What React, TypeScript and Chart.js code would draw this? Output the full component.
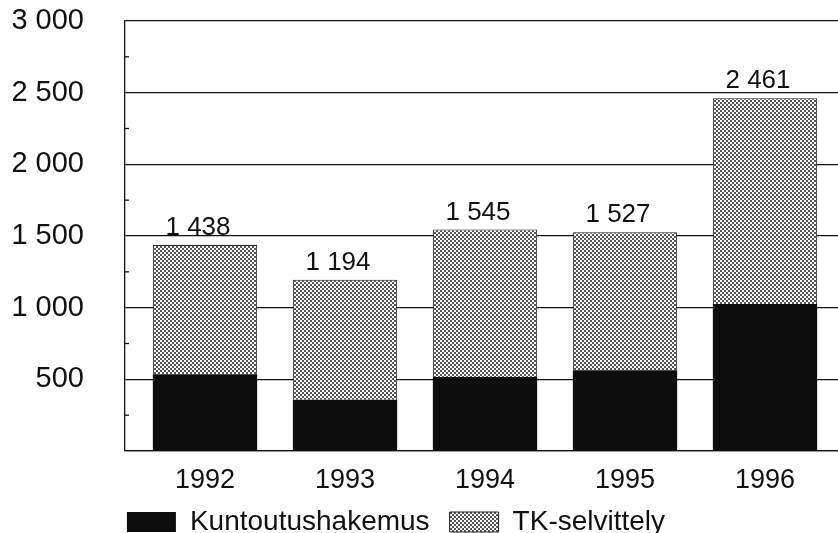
import React, { useEffect, useRef } from 'react';
import { Chart, registerables } from 'chart.js';

Chart.register(...registerables);

const FONT = "'Liberation Sans', Arial, sans-serif";

const YEARS = [1992, 1993, 1994, 1995, 1996];
const KUNTOUTUS = [535, 357, 516, 563, 1026];
const TK_SELVITTELY = [903, 837, 1029, 964, 1435];
const TOTAL_LABELS = ['1 438', '1 194', '1 545', '1 527', '2 461'];
const SERIES_NAMES = ['Kuntoutushakemus', 'TK-selvittely'];

const fmtThousands = (v: number) => {
  if (v >= 1000) {
    return `${Math.floor(v / 1000)} ${String(v % 1000).padStart(3, '0')}`;
  }
  return String(v);
};

const totalLabelsPlugin = {
  id: 'totalLabels',
  afterDatasetsDraw(chart: any) {
    const meta = chart.getDatasetMeta(1);
    const ctx = chart.ctx;
    ctx.save();
    ctx.font = `26px ${FONT}`;
    ctx.fillStyle = '#111';
    ctx.textAlign = 'center';
    ctx.textBaseline = 'alphabetic';
    meta.data.forEach((bar: any, i: number) => {
      ctx.fillText(TOTAL_LABELS[i], bar.x - 7, bar.y - 10);
    });
    ctx.restore();
  },
};

// small inward tick marks on the y axis for the minor (non-labelled) ticks
const minorTicksPlugin = {
  id: 'minorTicks',
  afterDraw(chart: any) {
    const y = chart.scales.y;
    const left = chart.chartArea.left;
    const ctx = chart.ctx;
    ctx.save();
    ctx.strokeStyle = '#111';
    ctx.lineWidth = 1.3;
    y.ticks.forEach((t: any, i: number) => {
      if (t.value % 500 !== 0) {
        const py = y.getPixelForTick(i);
        ctx.beginPath();
        ctx.moveTo(left, py);
        ctx.lineTo(left + 4, py);
        ctx.stroke();
      }
    });
    ctx.restore();
  },
};

export default function App() {
  const ref = useRef<HTMLCanvasElement | null>(null);

  useEffect(() => {
    const canvas = ref.current;
    if (!canvas) return;
    const ctx = canvas.getContext('2d');
    if (!ctx) return;

    const pc = document.createElement('canvas');
    pc.width = 4;
    pc.height = 4;
    const pctx = pc.getContext('2d')!;
    pctx.fillStyle = '#ffffff';
    pctx.fillRect(0, 0, 4, 4);
    pctx.fillStyle = '#555555';
    pctx.fillRect(0, 0, 2, 2);
    pctx.fillRect(2, 2, 2, 2);
    const pattern = ctx.createPattern(pc, 'repeat');

    Chart.defaults.color = '#111';

    const chart = new Chart(ctx, {
      type: 'bar',
      data: {
        labels: YEARS,
        datasets: [
          {
            label: SERIES_NAMES[0],
            data: KUNTOUTUS,
            backgroundColor: '#0d0d0d',
            borderWidth: 0,
            barPercentage: 0.745,
            categoryPercentage: 1,
          },
          {
            label: SERIES_NAMES[1],
            data: TK_SELVITTELY,
            backgroundColor: pattern as any,
            borderColor: '#222',
            borderWidth: 1,
            barPercentage: 0.745,
            categoryPercentage: 1,
          },
        ],
      },
      options: {
        animation: false,
        responsive: false,
        devicePixelRatio: 1,
        layout: { padding: { top: 21, left: 0, right: 0, bottom: 0 } },
        plugins: {
          legend: {
            position: 'bottom',
            labels: {
              boxWidth: 49,
              boxHeight: 20,
              padding: 20,
              color: '#111',
              font: { size: 28, family: FONT },
            },
          },
          tooltip: { enabled: false },
        },
        scales: {
          x: {
            type: 'linear',
            offset: false,
            min: 1991.4286,
            max: 1996.5214,
            stacked: true,
            afterBuildTicks: (scale: any) => {
              scale.ticks = YEARS.map((v) => ({ value: v }));
            },
            afterFit: (scale: any) => {
              scale.height = 37;
            },
            ticks: {
              autoSkip: false,
              maxRotation: 0,
              padding: 21,
              color: '#111',
              font: { size: 27, family: FONT, lineHeight: 0.667 },
              callback: (v: any) => String(v),
            },
            grid: { display: false, drawTicks: false, offset: false },
            border: { display: true, color: '#111', width: 1.3 },
          },
          y: {
            min: 0,
            max: 3000,
            stacked: true,
            afterFit: (scale: any) => {
              scale.width = 171;
            },
            ticks: {
              stepSize: 250,
              autoSkip: false,
              padding: 0,
              color: '#111',
              font: { size: 29, family: FONT },
              callback: (v: any) => (v % 500 === 0 && v !== 0 ? fmtThousands(v) : ''),
            },
            grid: {
              color: (c: any) => (c.tick && c.tick.value % 500 === 0 ? '#111' : 'rgba(0,0,0,0)'),
              lineWidth: 1.3,
              drawTicks: true,
              tickLength: 41,
              tickColor: 'rgba(0,0,0,0)',
            },
            border: { display: true, color: '#111', width: 1.3 },
          },
        },
      } as any,
      plugins: [totalLabelsPlugin, minorTicksPlugin],
    });

    return () => chart.destroy();
  }, []);

  return (
    <div
      style={{
        position: 'absolute',
        left: 0,
        top: 0,
        width: 838,
        height: 533,
        overflow: 'hidden',
        background: '#fff',
      }}
    >
      <canvas
        ref={ref}
        width={884}
        height={546}
        style={{ position: 'absolute', left: -46, top: 0, width: 884, height: 546 }}
      />
    </div>
  );
}
